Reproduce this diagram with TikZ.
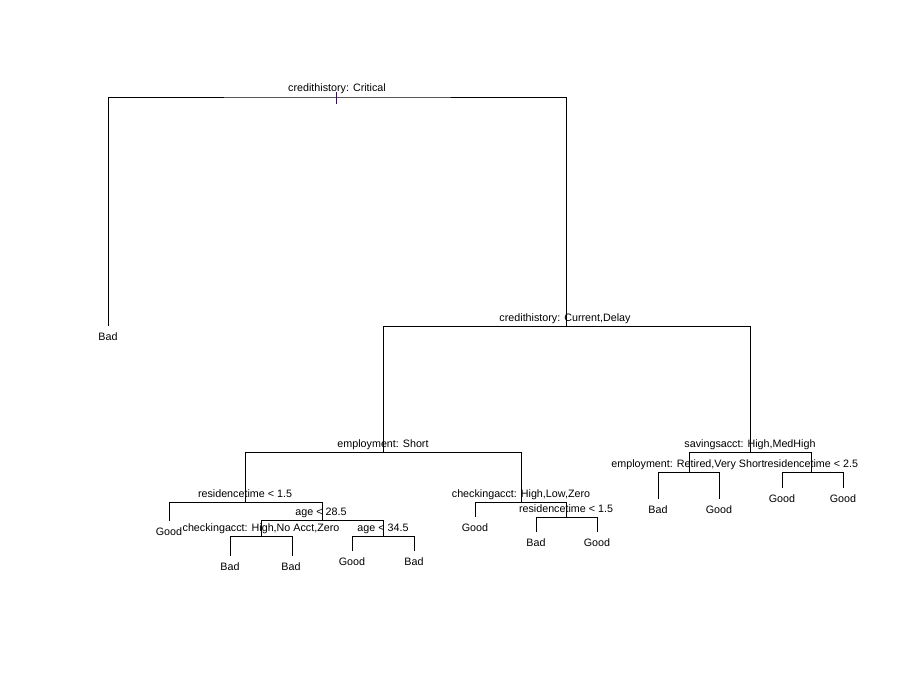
\documentclass[tikz,border=0pt]{standalone}
\usepackage{fontspec}
\setmainfont{Liberation Sans}
\begin{document}
\begin{tikzpicture}[x=0.75pt,y=-0.75pt,
  edge/.style={draw=black,line width=0.75pt},
  lab/.style={font=\fontsize{8.05pt}{9pt}\selectfont,inner sep=0pt,anchor=base,text=black,yshift=-0.6pt},
  tickc/.style={draw={rgb,255:red,70;green,0;blue,130},line width=0.75pt}]
\useasboundingbox[fill=white] (0,0) rectangle (912,672);
% tree node positions
\coordinate (n1) at (337,97);
\coordinate (l1) at (108,326);
\coordinate (n2) at (566,326);
\coordinate (n3) at (383,452);
\coordinate (n4) at (750,452);
\coordinate (n5) at (245,502);
\coordinate (n6) at (521,502);
\coordinate (l2) at (169,521);
\coordinate (n7) at (322,520);
\coordinate (n8) at (261,536);
\coordinate (n9) at (383,536);
\coordinate (l3) at (230,556);
\coordinate (l4) at (292,556);
\coordinate (l5) at (352,551);
\coordinate (l6) at (414,551);
\coordinate (l7) at (475,517);
\coordinate (n10) at (566,517);
\coordinate (l8) at (536,532);
\coordinate (l9) at (597,532);
\coordinate (n11) at (689,472);
\coordinate (n12) at (811,472);
\coordinate (l10) at (658,499);
\coordinate (l11) at (719,499);
\coordinate (l12) at (782,488);
\coordinate (l13) at (843,488);
\coordinate (tkA) at (336,92);
\coordinate (tkB) at (336,104);
% edges
\draw[edge] (l1) |- (n1) -| (n2);
\draw[edge] (n3) |- (n2) -| (n4);
\draw[edge] (n5) |- (n3) -| (n6);
\draw[edge] (l2) |- (n5) -| (n7);
\draw[edge] (n8) |- (n7) -| (n9);
\draw[edge] (l3) |- (n8) -| (l4);
\draw[edge] (l5) |- (n9) -| (l6);
\draw[edge] (l7) |- (n6) -| (n10);
\draw[edge] (l8) |- (n10) -| (l9);
\draw[edge] (n11) |- (n4) -| (n12);
\draw[edge] (l10) |- (n11) -| (l11);
\draw[edge] (l12) |- (n12) -| (l13);
\draw[tickc] (tkA) -- (tkB);
% split labels
\node[lab] (s1) at (337,91) {credithistory: Critical};
\node[lab] (s2) at (565,320.5) {credithistory: Current,Delay};
\node[lab] (s3) at (383,446.5) {employment: Short};
\node[lab] (s4) at (750,446.5) {savingsacct: High,MedHigh};
\node[lab] (s5) at (245,496.5) {residencetime < 1.5};
\node[lab] (s6) at (521,496.5) {checkingacct: High,Low,Zero};
\node[lab] (s7) at (321,514.5) {age < 28.5};
\node[lab] (s8) at (261,530.5) {checkingacct: High,No Acct,Zero};
\node[lab] (s9) at (383,530.5) {age < 34.5};
\node[lab] (s10) at (566,511.5) {residencetime < 1.5};
\node[lab] (s11) at (688,466.5) {employment: Retired,Very Short};
\node[lab] (s12) at (811,466.5) {residencetime < 2.5};
% leaf labels
\node[lab] (t1) at (108,340) {Bad};
\node[lab] (t2) at (169,535) {Good};
\node[lab] (t3) at (230,570) {Bad};
\node[lab] (t4) at (291,570) {Bad};
\node[lab] (t5) at (352,565) {Good};
\node[lab] (t6) at (414,565) {Bad};
\node[lab] (t7) at (475,531) {Good};
\node[lab] (t8) at (536,546) {Bad};
\node[lab] (t9) at (597,546) {Good};
\node[lab] (t10) at (658,513) {Bad};
\node[lab] (t11) at (719,513) {Good};
\node[lab] (t12) at (782,502) {Good};
\node[lab] (t13) at (843,502) {Good};
\end{tikzpicture}
\end{document}
